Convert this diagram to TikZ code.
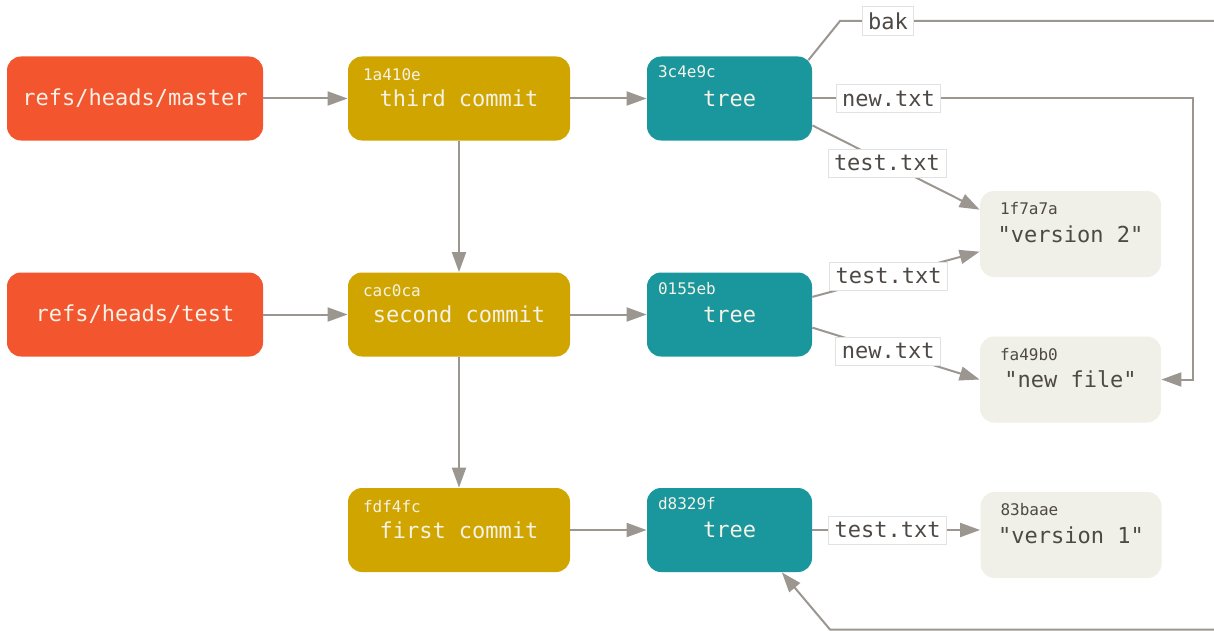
\documentclass[tikz,border=0pt]{standalone}
\usepackage{fontspec}
\setmonofont{DejaVu Sans Mono}
\usetikzlibrary{calc,arrows.meta}
\definecolor{refc}{HTML}{F3552E}
\definecolor{commitc}{HTML}{D0A500}
\definecolor{treec}{HTML}{1A969D}
\definecolor{blobc}{HTML}{F0EFE8}
\definecolor{objtxt}{HTML}{F6F2E6}
\definecolor{blobtxt}{HTML}{4E4944}
\definecolor{linkc}{HTML}{9B9690}
\definecolor{fnamebd}{HTML}{E2E2E2}
\tikzset{>={Triangle[length=10pt,width=7pt]}}
\tikzset{
  obj/.style={rounded corners=7pt, font=\ttfamily\fontsize{11}{13}\selectfont, text=objtxt, inner sep=0pt},
  ref/.style={obj, fill=refc, minimum width=128pt, minimum height=42pt},
  commit/.style={obj, fill=commitc, minimum width=111pt, minimum height=42pt},
  tree/.style={obj, fill=treec, minimum width=82.5pt, minimum height=42pt},
  blob/.style={obj, fill=blobc, text=blobtxt, minimum width=90.5pt, minimum height=43pt},
  hash/.style={font=\ttfamily\fontsize{8}{9}\selectfont, inner sep=0pt, anchor=west},
  chash/.style={hash, text=objtxt, xshift=7.5pt, yshift=-9.5pt},
  thash/.style={hash, text=objtxt, xshift=5.5pt, yshift=-8pt},
  bhash/.style={hash, text=blobtxt, xshift=10pt, yshift=-9pt},
  link/.style={draw=linkc, line width=1pt},
  fname/.style={fill=white, draw=fnamebd, line width=0.4pt, font=\ttfamily\fontsize{11}{13}\selectfont, text=blobtxt, inner sep=3pt, minimum height=14pt}
}
\begin{document}
\begin{tikzpicture}[x=0.5pt,y=-0.5pt]
\useasboundingbox (0,0) rectangle (1214,631);
% refs
\node[ref] (master) at (135,98.5) {refs/heads/master};
\node[ref] (test) at (135,314.5) {refs/heads/test};
% commits
\node[commit,label={[chash]north west:1a410e}] (c3) at (459,98.5) {third commit};
\node[commit,label={[chash]north west:cac0ca}] (c2) at (459,314.5) {second commit};
\node[commit,label={[chash]north west:fdf4fc}] (c1) at (459,530) {first commit};
% trees
\node[tree,label={[thash]north west:3c4e9c}] (t3) at (729.5,98.5) {tree};
\node[tree,label={[thash]north west:0155eb}] (t2) at (729.5,314.5) {tree};
\node[tree,label={[thash]north west:d8329f}] (t1) at (729.5,530) {tree};
% blobs
\node[blob,label={[bhash]north west:1f7a7a}] (b2) at (1070.5,234) {"version 2"};
\node[blob,label={[bhash]north west:fa49b0}] (bnew) at (1070.5,379.5) {"new file"};
\node[blob,label={[bhash]north west:83baae}] (b1) at (1071,535) {"version 1"};
\coordinate (bakbend) at (840,21);
\coordinate (bakout) at (1214,21);
\coordinate (newbend) at (1193,98.5);
\coordinate (loopin) at (1214,629.5);
\coordinate (loopbend) at (830,629.5);

\draw[link,->] (master) -- (c3);
\draw[link,->] (test) -- (c2);
\draw[link,->] (c3) -- (c2);
\draw[link,->] (c2) -- (c1);
\draw[link,->] (c3) -- (t3);
\draw[link,->] (c2) -- (t2);
\draw[link,->] (c1) -- (t1);

\draw[link] ($(t3.north east)+(-4,4)$) -- (bakbend) -- node[fname,pos=0.128] (lbak) {bak} (bakout);
\draw[link,->] (t3.east) -- node[fname,pos=0.2] (l3new) {new.txt} (newbend) |- (bnew.east);
\draw[link,->] (t3.-18) -- node[fname,pos=0.446] (l3test) {test.txt} (b2.165);
\draw[link,->] (t2.12) -- node[fname,pos=0.456] (l2test) {test.txt} (b2.191);
\draw[link,->] (t2.-9) -- node[fname,pos=0.453] (l2new) {new.txt} (bnew.west);
\draw[link,->] (t1.east) -- node[fname,pos=0.449] (l1test) {test.txt} (t1.east -| b1.west);
\draw[link,->] (loopin) -- (loopbend) -- (t1.-39);
\end{tikzpicture}
\end{document}
